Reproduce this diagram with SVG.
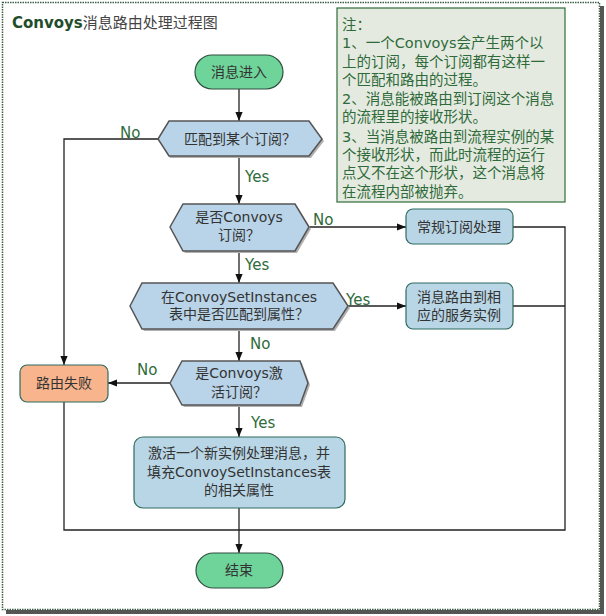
<svg xmlns="http://www.w3.org/2000/svg" width="606" height="616" viewBox="0 0 606 616">
<defs>
<style>
.t{font-family:"DejaVu Sans","Noto Sans CJK SC",sans-serif;font-size:14px;fill:#333;text-anchor:middle}
.lbl{font-family:"DejaVu Sans","Noto Sans CJK SC",sans-serif;font-size:15px;fill:#2f6b3a}
.note{font-family:"DejaVu Sans","Noto Sans CJK SC",sans-serif;font-size:14.5px;fill:#2f6b3a}
.dec{fill:#b9d3e8;stroke:#555;stroke-width:1.5}
.proc{fill:#b9d6e6;stroke:#2f6b5f;stroke-width:1.2}
.term{fill:#6fd49a;stroke:#2f4f3f;stroke-width:1.2}
.fail{fill:#f8b48c;stroke:#2f6b5f;stroke-width:1.2}
.ln{fill:none;stroke:#222;stroke-width:1.3}
.sh{fill:#b0b0b0}
</style>
<marker id="ah" viewBox="0 0 10 10" refX="10" refY="5" markerWidth="9" markerHeight="9" orient="auto" markerUnits="userSpaceOnUse">
<path d="M0,1 L10,5 L0,9 z" fill="#111"/>
</marker>
</defs>
<rect x="0" y="0" width="606" height="616" fill="#fff"/>
<rect x="600" y="6" width="4" height="608" fill="#555"/>
<rect x="6" y="610" width="598" height="4" fill="#555"/>
<rect x="2.5" y="2.5" width="597" height="607" fill="#fff" stroke="#3b5e45" stroke-width="1.5" stroke-dasharray="1.5,1"/>

<text x="12" y="28" style="font-family:'DejaVu Sans','Noto Sans CJK SC',sans-serif;font-size:15px"><tspan font-weight="bold" fill="#1e4d2b">Convoys</tspan><tspan fill="#444">消息路由处理过程图</tspan></text>

<g id="note">
<rect x="337" y="8" width="228" height="194" fill="#e5eae0" stroke="#2f6b3a" stroke-width="1.2"/>
<text class="note" x="342" y="30">注：</text>
<text class="note" x="342" y="48">1、一个Convoys会产生两个以</text>
<text class="note" x="342" y="67">上的订阅，每个订阅都有这样一</text>
<text class="note" x="342" y="85">个匹配和路由的过程。</text>
<text class="note" x="342" y="104">2、消息能被路由到订阅这个消息</text>
<text class="note" x="342" y="122">的流程里的接收形状。</text>
<text class="note" x="342" y="142">3、当消息被路由到流程实例的某</text>
<text class="note" x="342" y="160">个接收形状，而此时流程的运行</text>
<text class="note" x="342" y="178">点又不在这个形状，这个消息将</text>
<text class="note" x="342" y="197">在流程内部被抛弃。</text>
</g>

<g id="connectors">
<line class="ln" x1="239" y1="89" x2="239" y2="121" marker-end="url(#ah)"/>
<polyline class="ln" points="158,139 64,139 64,365" marker-end="url(#ah)"/>
<line class="ln" x1="239" y1="156" x2="239" y2="204" marker-end="url(#ah)"/>
<line class="ln" x1="309" y1="227" x2="406" y2="227" marker-end="url(#ah)"/>
<line class="ln" x1="239" y1="251" x2="239" y2="283" marker-end="url(#ah)"/>
<line class="ln" x1="348" y1="306" x2="406" y2="306" marker-end="url(#ah)"/>
<line class="ln" x1="239" y1="329" x2="239" y2="361" marker-end="url(#ah)"/>
<line class="ln" x1="170" y1="383" x2="108" y2="383" marker-end="url(#ah)"/>
<line class="ln" x1="239" y1="405" x2="239" y2="437" marker-end="url(#ah)"/>
<line class="ln" x1="239" y1="508" x2="239" y2="553" marker-end="url(#ah)"/>
<polyline class="ln" points="513,227 565,227 565,530 64,530 64,402"/>
<line class="ln" x1="513" y1="306" x2="565" y2="306"/>
<text class="lbl" x="120" y="138">No</text>
<text class="lbl" x="245" y="182">Yes</text>
<text class="lbl" x="313" y="225">No</text>
<text class="lbl" x="245" y="270">Yes</text>
<text class="lbl" x="346" y="305">Yes</text>
<text class="lbl" x="250" y="349">No</text>
<text class="lbl" x="137" y="375">No</text>
<text class="lbl" x="251" y="428">Yes</text>
</g>

<g id="start">
<rect x="195" y="55" width="88" height="34" rx="17" class="term"/>
<text class="t" x="239" y="77">消息进入</text>
</g>

<g id="d1">
<polygon class="sh" points="160,141 170,124 311,124 324,141 311,158 170,158"/>
<polygon class="dec" points="158,139 169,121 309,121 322,139 309,156 169,156"/>
<text class="t" x="240" y="144">匹配到某个订阅？</text>
</g>

<g id="d2">
<polygon class="sh" points="172,229 185,206 297,206 311,229 297,253 185,253"/>
<polygon class="dec" points="170,227 183,204 295,204 309,227 295,251 183,251"/>
<text class="t" x="239" y="222">是否Convoys</text>
<text class="t" x="239" y="240">订阅？</text>
</g>

<g id="normal">
<rect x="406" y="209" width="107" height="35" rx="7" class="proc"/>
<text class="t" x="459" y="232">常规订阅处理</text>
</g>

<g id="d3">
<polygon class="sh" points="132,308 144,285 335,285 350,308 335,331 144,331"/>
<polygon class="dec" points="130,306 142,283 333,283 348,306 333,329 142,329"/>
<text class="t" x="239" y="302">在ConvoySetInstances</text>
<text class="t" x="239" y="319">表中是否匹配到属性？</text>
</g>

<g id="route">
<rect x="406" y="283" width="107" height="46" rx="7" class="proc"/>
<text class="t" x="459" y="302">消息路由到相</text>
<text class="t" x="459" y="320">应的服务实例</text>
</g>

<g id="d4">
<polygon class="sh" points="172,385 184,363 302,363 310,385 302,407 184,407"/>
<polygon class="dec" points="170,383 182,361 300,361 308,383 300,405 182,405"/>
<text class="t" x="239" y="378">是Convoys激</text>
<text class="t" x="239" y="397">活订阅？</text>
</g>

<g id="fail">
<rect x="20" y="365" width="88" height="37" rx="7" class="fail"/>
<text class="t" x="64" y="388">路由失败</text>
</g>

<g id="activate">
<rect x="134" y="437" width="211" height="71" rx="9" class="proc"/>
<text class="t" x="239" y="458">激活一个新实例处理消息，并</text>
<text class="t" x="239" y="477">填充ConvoySetInstances表</text>
<text class="t" x="239" y="495">的相关属性</text>
</g>

<g id="end">
<rect x="196" y="553" width="87" height="35" rx="17.5" class="term"/>
<text class="t" x="239" y="575">结束</text>
</g>
</svg>
